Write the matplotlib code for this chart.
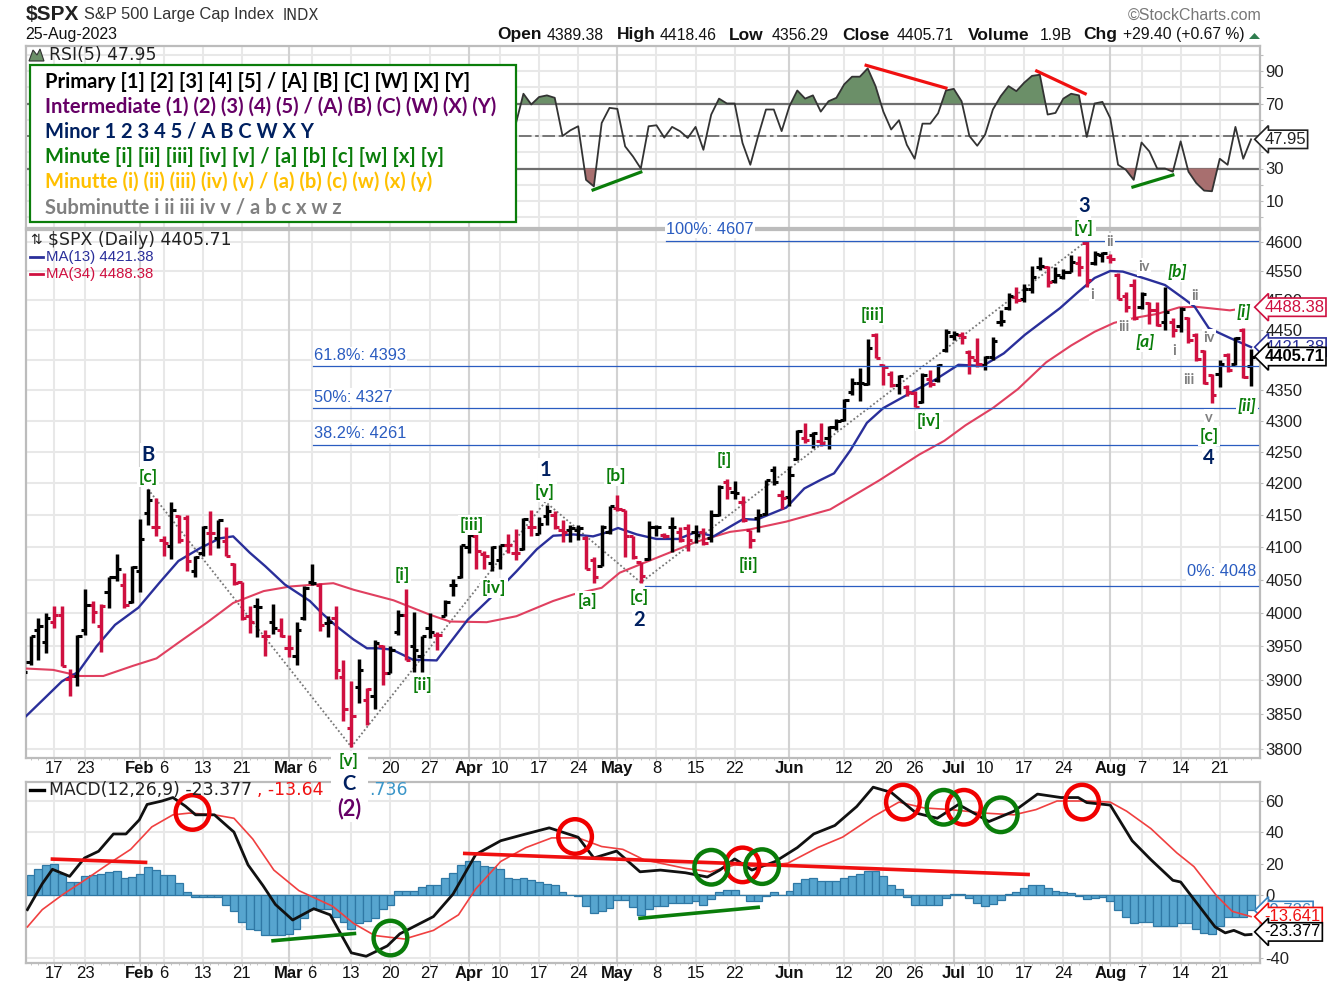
# plot.py - $SPX daily bars with RSI, MACD and hand drawn wave labels
import numpy as np
import pandas as pd
import matplotlib
matplotlib.use('Agg')
import matplotlib.pyplot as plt
from matplotlib.patches import Ellipse, Rectangle, Polygon
from matplotlib.lines import Line2D
from matplotlib.ticker import NullLocator, FixedLocator
from matplotlib.transforms import Affine2D

# trading days, bar -4 is Jan 10 and bar 0 is Jan 17
holidays = ['2023-01-16', '2023-02-20', '2023-04-07', '2023-05-29', '2023-06-19', '2023-07-04']
dates = pd.bdate_range('2023-01-10', '2023-08-25').difference(pd.to_datetime(holidays))
bars = np.arange(len(dates)) - 4

opens = [3905,3927,3975,3957,3987,3997,3902,3906,3975,4012,
         3980,4031,4054,4043,4016,4063,4153,4132,4112,4102,
         4148,4146,4063,4092,4122,4114,4110,4075,4047,3995,
         4010,3965,3987,3975,3947,3935,3992,4047,4043,3985,
         3992,3905,3830,3890,3871,3876,3950,3911,3972,3997,
         3950,3935,3977,3967,3996,4043,4054,4100,4118,4089,
         4076,4081,4104,4092,4097,4132,4120,4148,4151,4127,
         4127,4127,4114,4081,4072,4124,4162,4158,4117,4077,
         4082,4131,4119,4132,4124,4130,4124,4124,4114,4151,
         4203,4187,4171,4127,4146,4152,4222,4182,4179,4239,
         4273,4278,4267,4272,4290,4302,4347,4362,4360,4442,
         4391,4377,4358,4355,4346,4331,4369,4367,4417,4440,
         4441,4413,4400,4391,4405,4463,4487,4506,4503,4520,
         4557,4557,4533,4540,4549,4564,4598,4564,4577,4574,
         4543,4507,4526,4489,4495,4483,4463,4463,4456,4470,
         4442,4415,4375,4377,4408,4393,4450,4389.38]
highs = [3930,3965,3992,4000,4010,4010,3917,3967,4036,4018,
         4013,4055,4089,4060,4071,4144,4191,4177,4118,4171,
         4151,4151,4087,4133,4156,4143,4132,4076,4047,4011,
         4023,3974,4014,3992,3967,3986,4041,4074,4045,3995,
         4011,3930,3899,3931,3888,3960,3952,3950,4005,4036,
         4002,3966,4000,3972,4020,4052,4104,4120,4120,4094,
         4102,4104,4120,4128,4146,4158,4147,4166,4157,4143,
         4135,4135,4117,4085,4134,4164,4182,4158,4118,4078,
         4141,4135,4123,4147,4131,4137,4135,4130,4158,4197,
         4207,4204,4180,4127,4159,4206,4227,4190,4227,4286,
         4296,4282,4296,4292,4303,4336,4371,4387,4435,4445,
         4393,4381,4375,4359,4349,4378,4383,4393,4451,4449,
         4446,4417,4436,4407,4439,4483,4513,4523,4528,4558,
         4574,4559,4557,4554,4577,4575,4602,4585,4583,4580,
         4546,4514,4537,4514,4497,4497,4523,4470,4488,4472,
         4445,4416,4377,4400,4412,4439,4454,4418.46]
lows = [3900,3922,3930,3940,3977,3920,3877,3892,3967,3985,
        3942,4008,4048,4008,4015,4031,4135,4117,4087,4082,
        4107,4063,4054,4087,4088,4099,4086,4042,3990,3970,
        3964,3935,3969,3964,3934,3922,3990,4043,3973,3964,
        3902,3840,3803,3866,3834,3858,3893,3910,3967,3929,
        3912,3912,3962,3945,3995,4025,4053,4092,4066,4066,
        4063,4066,4092,4081,4096,4117,4120,4134,4128,4109,
        4109,4111,4066,4045,4071,4121,4157,4085,4082,4046,
        4081,4117,4114,4093,4109,4094,4106,4104,4109,4148,
        4175,4175,4140,4099,4124,4151,4198,4159,4164,4238,
        4264,4257,4260,4255,4285,4300,4343,4332,4358,4403,
        4359,4355,4344,4340,4322,4329,4355,4364,4413,4433,
        4427,4377,4388,4383,4400,4456,4483,4495,4498,4513,
        4551,4523,4530,4536,4548,4542,4523,4561,4566,4564,
        4502,4481,4467,4486,4460,4456,4450,4438,4447,4428,
        4399,4360,4329,4355,4380,4391,4371,4356.29]
closes = [3912,3965,3980,3992,3997,3921,3906,3965,4012,4002,
          4011,4054,4066,4012,4070,4113,4174,4132,4106,4158,
          4112,4079,4085,4131,4122,4143,4087,4045,3992,3987,
          4009,3965,3977,3965,3947,3975,4038,4046,3982,3986,
          3915,3857,3848,3915,3887,3955,3910,3945,3997,3930,
          3945,3965,3972,3967,4016,4043,4103,4119,4094,4087,
          4101,4103,4103,4092,4144,4132,4137,4157,4132,4124,
          4130,4130,4067,4054,4132,4164,4159,4117,4085,4056,
          4131,4132,4117,4131,4112,4112,4119,4106,4151,4195,
          4193,4185,4143,4111,4151,4205,4202,4177,4214,4283,
          4270,4280,4265,4291,4300,4334,4362,4362,4420,4404,
          4388,4358,4373,4347,4323,4375,4361,4392,4447,4443,
          4439,4405,4394,4405,4431,4465,4507,4500,4520,4540,
          4558,4532,4543,4548,4566,4557,4535,4580,4581,4571,
          4503,4489,4470,4510,4483,4459,4480,4450,4486,4434,
          4401,4362,4343,4394,4383,4436,4372,4405.71]
red_bars = [0,1,2,5,6,9,13,14,16,17,20,22,23,24,25,27,29,30,34,36,37,38,40,42,45,49,
            54,55,58,59,61,64,65,68,69,72,73,74,75,78,80,81,83,86,88,89,93,96,98,
            105,106,107,109,110,112,116,117,118,123,127,131,132,135,136,137,138,
            140,141,143,145,146,147,148,150,152]

ma13_x = [-3.6,-1.15,1,3.1,5.45,7.8,10.8,13.5,15.9,18.7,21.2,22.9,25,27,29.5,32.7,34.2,36.1,38.3,40,
          41.5,43.2,45.9,48.9,50.6,52.9,56,59.1,61.7,63.8,66.4,68.9,70.6,72.1,74.5,77,79.8,82.1,84.3,
          86.4,88.1,89.8,93.6,95.9,97.9,99.7,101.8,103.9,106,109.8,112.7,115.6,118.7,121.4,124.1,
          128.6,130.8,133,135,136.6,139.7,142,144.4,145.8,147.6,150.4,153]
ma13_y = [3847,3874,3898,3912,3950,3982,4008,4046,4079,4099,4114,4117,4092,4071,4043,4018,4000,3980,3960,3947,
          3947,3945,3930,3929,3955,3990,4025,4063,4097,4118,4120,4117,4123,4130,4120,4113,4113,4124,4117,
          4132,4144,4143,4162,4192,4205,4216,4253,4297,4321,4348,4368,4392,4390,4411,4442,
          4487,4513,4538,4550,4549,4536,4526,4503,4489,4453,4436,4421.38]
ma34_x = [-3.6,-0.1,3.3,6.3,10.1,13.1,16.1,19.5,22.9,26.8,30.2,35.7,38.3,43.4,48.1,50.6,
          55.3,59.1,63.8,66.4,70,72.3,75.8,78.7,82.2,86.4,89,93.6,99.2,105.5,
          110.6,113.8,116.5,120,123.2,126.8,130,133,135.5,138,141,143.8,146,150.3,153]
ma34_y = [3917,3915,3906,3906,3921,3932,3957,3985,4015,4033,4040,4045,4035,4019,3997,3987,
          3986,3995,4018,4028,4038,4061,4078,4092,4109,4124,4128,4140,4159,4205,
          4246,4268,4293,4321,4352,4396,4424,4447,4462,4470,4477,4488,4489,4483,4488.38]

# RSI is only visible to the right of the legend box, starts at bar 59
rsi_start = 59
rsi = [57,76,69.4,74,75,73.5,50,53.5,56,23,19,58,67.3,66.7,43.6,37.4,30,56,56.6,49,55.6,53,48.8,55.6,41.5,
       63.2,73,70,70,45.7,32.3,50,66.3,66.3,53,68.4,78,73,75,65,71.4,73.5,81.8,86.5,86.5,91.6,80.7,65,54,59.7,
       44.6,36,57.6,57.6,64,78,79,71.4,50,44,50.8,66.3,74.5,80.7,77.6,82.8,87,87.7,63.2,64.2,73,76,75,49.4,70,
       71,61,32.3,29.2,23,46,40.5,30,30,28,46.7,28,21,16.4,16,36,32.3,55.6,36,47.95]

macd_x = [-3.4,-1.5,-0.2,2,3.9,5.7,7.6,9.2,10.9,11.9,13.8,15.2,16.8,18.1,20.5,23,24.8,26.7,28.3,30.5,33.2,
          35.3,38,39.9,42.6,44.2,48.5,51,53.9,57.1,60.3,63.3,67,69,71.9,74.9,77.5,80.7,83.5,85.1,87,89.2,
          92.2,95,97.1,99.8,102.6,104.7,107,110.2,112.9,115.6,119.5,122.7,125.7,128.7,130.9,132,135,137.8,
          140.2,143,144,146.2,148.4,149.7,150.8,152.2,153]
macd_y = [-9.2,7.3,16.5,12,23.7,28,39,39,48,57.8,60,62.2,56.7,51.2,51.2,40.2,19.3,6.2,-5.9,-15.8,-8.6,
          -12.5,-36.7,-38.9,-32.3,-24.6,-13.6,0.7,25.9,34.7,39,42.9,36.9,23.7,28.1,14.9,16,14.3,11.6,16,23.1,16,
          21.5,30.3,39,44.4,56.5,68.8,65.5,52.3,49,57.8,46.9,53.5,64.4,62.2,62.2,59,57.4,34.7,
          22.6,9.5,8.4,-5.9,-20.2,-24,-22.4,-25.3,-25]
signal_x = [-3.4,-1.5,1.2,3.9,7.1,9.8,12.5,15.2,17.3,20.5,23,25.4,28.1,31.3,35.6,38.3,41,44.8,48.5,51.7,53.9,
            57.1,60.3,63.6,67,70,72.7,75.4,77.5,80.7,83.9,87,90,93.8,97.6,100.8,104.7,108,111.2,114.6,118.9,
            122.7,125.5,128.2,132,135,137.1,140.2,143.5,145.7,148.6,150.6,153]
signal_y = [-20.2,-9.2,0.7,9.5,20.4,29.2,43.5,51.2,52.3,51.2,49,35.8,16,2.9,-7,-18,-25.7,-27.9,-22.4,-12.5,4,
            21.5,30.3,36.5,36.5,31,29.2,22.6,20.4,17.1,14.9,19.3,18.2,20.4,30.3,37,50,59.3,55.6,54.5,52.3,
            51.2,54.5,60,60,59.3,53.5,42.4,27,18.2,-0.4,-10.3,-13.641]
hist = [10,12.7,17,19,20,13.4,8.4,8.4,12,12.7,
        13.8,14.5,15.4,11.2,11.6,13.4,18,16,12.7,12.7,
        7.7,1.8,-1,-1,-1,-1,-6,-10,-17,-21.8,
        -22.4,-25.3,-25.3,-25.3,-24.6,-21.3,-14.7,-8.6,-8.8,-8.8,
        -13.6,-17,-21.3,-17.4,-16.3,-14.7,-8.6,-6,2.4,2.4,
        2.4,5,6.8,6.8,11.2,14.3,19.3,22,22,18.9,
        17.8,16.7,11.2,10.5,11.2,9.5,8.4,7.3,6.2,1.8,
        0.2,-0.4,-7,-11.4,-10.3,-8,-3.3,-3.3,-7.7,-12.5,
        -8.6,-7,-7,-4.8,-4.8,-4.8,-3.7,-6,-2.6,1.8,
        3.5,3.5,0,-3.7,-3.7,-0.4,1.8,0.2,2.9,7.7,
        10.5,11.2,8.8,8.8,8.8,11.2,12,13.2,15.4,15.4,
        12,6.8,4,-1,-6,-6,-6,-6,-1.5,0.7,
        0.7,-1.5,-4.8,-7,-5.5,-3.3,0.7,1.8,4.6,6.2,
        6.8,4.6,2.4,1.8,1.3,-0.4,-2.6,-2,-1.1,-3.7,
        -9.2,-13.6,-17.4,-17,-17,-19.6,-19.6,-19.6,-18,-18,
        -21.3,-24,-24.6,-19.6,-14,-14,-14,-9.736]

# x tick dates and what they say, month starts get the bold name
tick_dates = ['2023-01-17','2023-01-23','2023-02-01','2023-02-06','2023-02-13','2023-02-21','2023-03-01',
              '2023-03-06','2023-03-13','2023-03-20','2023-03-27','2023-04-03','2023-04-10','2023-04-17',
              '2023-04-24','2023-05-01','2023-05-08','2023-05-15','2023-05-22','2023-06-01','2023-06-12',
              '2023-06-20','2023-06-26','2023-07-03','2023-07-10','2023-07-17','2023-07-24','2023-08-01',
              '2023-08-07','2023-08-14','2023-08-21']
tick_labels = ['17','23','Feb','6','13','21','Mar','6','13','20','27','Apr','10','17','24','May','8','15','22',
               'Jun','12','20','26','Jul','10','17','24','Aug','7','14','21']
month_names = ['Feb','Mar','Apr','May','Jun','Jul','Aug']

price_ticks = [3800,3850,3900,3950,4000,4050,4100,4150,4200,4250,4300,4350,4400,4450,4500,4550,4600]
price_labels = ['3800','3850','3900','3950','4000','4050','4100','4150','4200','4250','4300','4350','',
                '4450','4500','4550','4600']

# fib levels as the lines sit in the picture, start bar of each, label text
fib_prices = [4602, 4390, 4321, 4261, 4041]
fib_starts = [78.2, 33.1, 33.1, 33.1, 75.5]

# dotted wave outline through the swing points
wave_x = [12, 38, 62.8, 75, 132]
wave_y = [4191, 3803, 4171, 4046, 4602]

# pasted divergence lines: (bar, value, bar, value)
rsi_red = [(103.8,93.5,114,79.5), (125.6,90,131.8,76)]
rsi_green = [(68.9,16.8,75,27.8), (137.9,18.6,143,26)]
macd_red = [(-0.2,23,11.7,20.9), (52.5,26.6,124.5,13.2)]
macd_green = [(28,-29,38.4,-24.4), (74.9,-14.7,90,-7.7)]
circles_red = [(17.7,52.7),(66.6,37.4),(88,19.3),(108.5,59.3),(116.3,56),(131.4,59.3)]
circles_green = [(43,-27.3),(84,17.8),(90.5,18.2),(113.7,56),(121,51.2)]

GREEN = '#0a7d0a'
NAVY = '#002060'
PURPLE = '#660066'
GRAY = '#808080'
GOLD = '#ffc000'
CRIMSON = '#cf1040'
MABLUE = '#2a2f9a'
MARED = '#e04060'
FIB = '#2a5cc0'
GRID = '#e8e8e8'
MONTH = '#d2d2d2'
EDGE = '#bcbcbc'

plt.rcParams['font.family'] = ['Liberation Sans', 'DejaVu Sans']

W, H = 1329, 990
fig = plt.figure(figsize=(W / 100, H / 100), dpi=100, facecolor='white')
px = Affine2D().scale(1, -1).translate(0, H)  # picture pixels, origin top left


def panel(top, bottom):
    ax = fig.add_axes([26 / W, 1 - bottom / H, (1260 - 26) / W, (bottom - top) / H])
    ax.set_xlim((26 - 54) / 7.824, (1260 - 54) / 7.824)
    ax.yaxis.tick_right()
    for s in ax.spines.values():
        s.set_color(EDGE)
        s.set_linewidth(1.6)
    tick_x = [dates.searchsorted(pd.Timestamp(d)) - 4 for d in tick_dates]
    ax.set_xticks(tick_x)
    ax.set_xticklabels(tick_labels)
    for lab in ax.get_xticklabels():
        if lab.get_text() in month_names:
            lab.set_fontweight('bold')
            lab.set_fontsize(13)
    ax.xaxis.set_minor_locator(FixedLocator(bars))
    ax.tick_params(axis='x', which='major', length=2, color=EDGE, labelsize=12, pad=0.5, labelcolor='#111111')
    ax.tick_params(axis='x', which='minor', length=1.5, color=EDGE)
    ax.tick_params(axis='y', length=2, color=EDGE, labelsize=12, pad=2, labelcolor='#222222')
    ax.grid(True, which='major', color=GRID, lw=1.5)
    ax.set_axisbelow(True)
    for t, lab in zip(tick_x, tick_labels):
        if lab in month_names:
            ax.axvline(t, color=MONTH, lw=1.5, zorder=0.6)
    return ax


def tag(ax, value, s, color, weight='normal', size=12):
    ax.text(1.0035, value, s, transform=ax.get_yaxis_transform(), va='center', ha='left', color=color,
            fontsize=size, fontweight=weight, zorder=20, clip_on=False,
            bbox=dict(boxstyle='larrow,pad=0.1', fc='white', ec=color, lw=1.2))


def note(x, y, s, color=GREEN, size=12.5, style='normal', pad=1.2):
    fig.text(x, y, s, transform=px, color=color, fontsize=size, fontweight='bold', fontstyle=style,
             family='Lato', ha='center', va='center', zorder=30,
             bbox=dict(fc='white', ec='none', pad=pad))


def head(x, y, s, size=11.5, weight='normal', color='#111111', ha='left', family=None):
    fig.text(x, y, s, transform=px, fontsize=size, fontweight=weight, color=color, ha=ha, va='center',
             family=family if family else ['Liberation Sans', 'DejaVu Sans'], zorder=25)


# RSI panel
ax_rsi = panel(46, 228)
ax_rsi.set_ylim(90 - (228 - 71) / 1.625, 90 + (71 - 46) / 1.625)
ax_rsi.set_yticks(range(0, 101, 10))
ax_rsi.set_yticklabels(['', '10', '', '30', '', '', '', '70', '', '90', ''])
ax_rsi.tick_params(axis='x', labelbottom=False)
rsi_x = np.arange(rsi_start, rsi_start + len(rsi))
rsi_v = np.array(rsi)
ax_rsi.axhline(70, color='#6e6e6e', lw=1.6, zorder=1)
ax_rsi.axhline(30, color='#6e6e6e', lw=1.6, zorder=1)
ax_rsi.axhline(50, color='#6e6e6e', lw=1.3, ls=(0, (7, 2, 2, 2)), zorder=1)
ax_rsi.fill_between(rsi_x, 70, rsi_v, where=rsi_v >= 70, interpolate=True, color='#6b8f68', lw=0, zorder=2)
ax_rsi.fill_between(rsi_x, 30, rsi_v, where=rsi_v <= 30, interpolate=True, color='#a86f6f', lw=0, zorder=2)
ax_rsi.plot(rsi_x, rsi_v, color='#333333', lw=1.3, zorder=3)
for a, b, c, d in rsi_red:
    ax_rsi.plot([a, c], [b, d], color='#f01010', lw=2.3, zorder=5)
for a, b, c, d in rsi_green:
    ax_rsi.plot([a, c], [b, d], color=GREEN, lw=2.3, zorder=5)
tag(ax_rsi, 47.95, '47.95', '#222222')

# price panel
ax = panel(230, 758)
ax.set_yscale('log')
ax.set_ylim(3800 * np.exp(-(758 - 749) / 2654), 4600 * np.exp((242 - 230) / 2654))
ax.yaxis.set_minor_locator(NullLocator())
ax.set_yticks(price_ticks)
ax.set_yticklabels(price_labels)
ax.yaxis.set_minor_formatter(plt.NullFormatter())
# the Mar 13 date sits under the pasted wave C labels
ax.xaxis.get_major_ticks()[tick_dates.index('2023-03-13')].label1.set_visible(False)
ax.plot(wave_x, wave_y, color='#777777', lw=1.3, ls=(0, (1, 1.3)), zorder=2)
ax.plot(ma13_x, ma13_y, color=MABLUE, lw=1.7, zorder=4)
ax.plot(ma34_x, ma34_y, color=MARED, lw=1.5, zorder=3.5)
bar_colors = [CRIMSON if b in red_bars else 'black' for b in bars]
ax.vlines(bars, lows, highs, colors=bar_colors, lw=2.5, zorder=5)
ax.hlines(opens, bars - 0.55, bars, colors=bar_colors, lw=2.2, zorder=5)
ax.hlines(closes, bars, bars + 0.55, colors=bar_colors, lw=2.2, zorder=5)
for p, s in zip(fib_prices, fib_starts):
    ax.plot([s, 153.9], [p, p], color=FIB, lw=0.9, zorder=6)
tag(ax, 4488.38, '4488.38', CRIMSON)
tag(ax, 4421.38, '4421.38', MABLUE)
tag(ax, 4405.71, '4405.71', 'black', weight='bold')

# MACD panel
ax_m = panel(782, 963)
ax_m.set_ylim(60 - (963 - 801) / 1.57, 60 + (801 - 782) / 1.57)
ax_m.set_yticks([-40, -20, 0, 20, 40, 60])
ax_m.set_yticklabels(['-40', '', '0', '20', '40', '60'])
ax_m.bar(bars, hist, width=1.0, color='#57a5cf', edgecolor='#2f78a5', linewidth=0.9, zorder=2)
ax_m.axhline(0, color='#8fb9d2', lw=0.8, zorder=1)
ax_m.plot(signal_x, signal_y, color='#f04040', lw=1.2, zorder=3)
ax_m.plot(macd_x, macd_y, color='#111111', lw=2.0, zorder=4)
for a, b, c, d in macd_red:
    ax_m.plot([a, c], [b, d], color='#f01010', lw=2.6, zorder=6)
for a, b, c, d in macd_green:
    ax_m.plot([a, c], [b, d], color=GREEN, lw=2.6, zorder=6)
for xy in circles_red:
    ax_m.add_patch(Ellipse(xy, 4.3, 22, fill=False, ec='#f00000', lw=3.2, zorder=7))
for xy in circles_green:
    ax_m.add_patch(Ellipse(xy, 4.3, 22, fill=False, ec=GREEN, lw=3.2, zorder=7))
tag(ax_m, -9.736, '-9.736', '#3a85c0')
tag(ax_m, -13.641, '-13.641', '#f01010')
tag(ax_m, -23.377, '-23.377', 'black')

# header
head(26, 14, '$SPX', 15, 'bold', '#222222')
head(84, 15, 'S&P 500 Large Cap Index', 11.8, color='#333333')
head(283, 15, 'INDX', 10.5, color='#333333', family='DejaVu Sans')
head(25, 35, '25-Aug-2023', 11.5)
head(1261, 15, '\u00a9StockCharts.com', 11.5, color='#777777', ha='right')
head_bold = [(497, 'Open'), (617, 'High'), (729, 'Low'), (842, 'Close'), (968, 'Volume'), (1083, 'Chg')]
head_norm = [(547, '4389.38'), (660, '4418.46'), (772, '4356.29'), (897, '4405.71'), (1040, '1.9B'),
             (1123, '+29.40 (+0.67 %)')]
for x, s in head_bold:
    head(x, 35, s, 12.5, 'bold')
for x, s in head_norm:
    head(x, 35, s, 11.3)
fig.add_artist(Polygon([(1249, 39), (1260, 39), (1254.5, 33)], closed=True, fc='#2f7d4f', ec='none',
                       transform=px, zorder=25))

# panel captions
head(49, 55, 'RSI(5) 47.95', 12.4, family='DejaVu Sans', color='#222222')
fig.add_artist(Polygon([(29, 61), (33, 50), (37, 55), (40, 49), (44, 61)], closed=True, fc='#6b8f68', ec='#333333',
                       lw=0.8, transform=px, zorder=25))
head(30, 240, '\u21c5', 10, family='DejaVu Sans', color='#222222')
head(48, 240, '$SPX (Daily) 4405.71', 12.4, family='DejaVu Sans', color='#222222')
head(46, 257, 'MA(13) 4421.38', 10.8, color=MABLUE)
head(46, 274, 'MA(34) 4488.38', 10.8, color=CRIMSON)
fig.add_artist(Line2D([30, 43], [257, 257], color=MABLUE, lw=2, transform=px, zorder=25))
fig.add_artist(Line2D([30, 43], [274, 274], color=CRIMSON, lw=2, transform=px, zorder=25))
head(49, 790, 'MACD(12,26,9) -23.377', 12.4, family='DejaVu Sans', color='#222222')
head(257, 790, ', -13.64', 12.4, family='DejaVu Sans', color='#f01010')
head(369, 790, '.736', 12.4, family='DejaVu Sans', color='#3a95c8')
fig.add_artist(Line2D([30, 44], [790, 790], color='black', lw=2.4, transform=px, zorder=25))

# white patch that the wave C labels were pasted on
fig.add_artist(Rectangle((331, 751), 37, 71, fc='white', ec='none', transform=px, zorder=28))

# wave degree legend
fig.add_artist(Rectangle((30, 65), 486, 157, fc='white', ec=GREEN, lw=1.6, transform=px, zorder=26))
legend_lines = [('Primary [1] [2] [3] [4] [5] / [A] [B] [C] [W] [X] [Y]', 'black'),
                ('Intermediate (1) (2) (3) (4) (5) / (A) (B) (C) (W) (X) (Y)', PURPLE),
                ('Minor 1 2 3 4 5 / A B C W X Y', NAVY),
                ('Minute [i] [ii] [iii] [iv] [v] / [a] [b] [c] [w] [x] [y]', GREEN),
                ('Minutte (i) (ii) (iii) (iv) (v) / (a) (b) (c) (w) (x) (y)', GOLD),
                ('Subminutte i ii iii iv v / a b c x w z', GRAY)]
for i, (s, c) in enumerate(legend_lines):
    fig.text(45, 82 + 25 * i, s, transform=px, color=c, fontsize=14.5, fontweight='bold', family='Lato',
             va='center', ha='left', zorder=27)

# fib captions
fib_text = [(666, 229, '100%: 4607'), (314, 356, '61.8%: 4393'), (314, 397, '50%: 4327'),
            (314, 434, '38.2%: 4261'), (1187, 572, '0%: 4048')]
for x, y, s in fib_text:
    fig.text(x, y, s, transform=px, color=FIB, fontsize=11.8, va='center', ha='left', zorder=29,
             bbox=dict(fc='white', ec='none', pad=1))

# wave labels
for x, y, s in [(148, 477, '[c]'), (349, 761, '[v]'), (402, 575, '[i]'), (422, 685, '[ii]'), (472, 525, '[iii]'),
                (494, 588, '[iv]'), (545, 492, '[v]'), (616, 476, '[b]'), (587, 601, '[a]'), (639, 597, '[c]'),
                (724, 460, '[i]'), (748, 565, '[ii]'), (873, 315, '[iii]'), (929, 421, '[iv]'), (1084, 228, '[v]'),
                (1209, 436, '[c]')]:
    note(x, y, s)
for x, y, s in [(1177, 272, '[b]'), (1145, 342, '[a]'), (1244, 312, '[i]'), (1247, 406, '[ii]')]:
    note(x, y, s, style='italic')
for x, y, s in [(148, 455, 'B'), (349, 784, 'C'), (545, 470, '1'), (639, 620, '2'), (1084, 206, '3'), (1209, 458, '4')]:
    note(x, y, s, NAVY, 14.5)
note(349, 809, '(2)', PURPLE, 15.5)
for x, y, s in [(1110, 242, 'ii'), (1092, 295, 'i'), (1144, 267, 'iv'), (1195, 296, 'ii'), (1124, 327, 'iii'),
                (1174, 351, 'i'), (1209, 338, 'iv'), (1189, 380, 'iii'), (1209, 418, 'v')]:
    note(x, y, s, GRAY, 10.5)

fig.savefig('out.png', dpi=100, facecolor='white')
